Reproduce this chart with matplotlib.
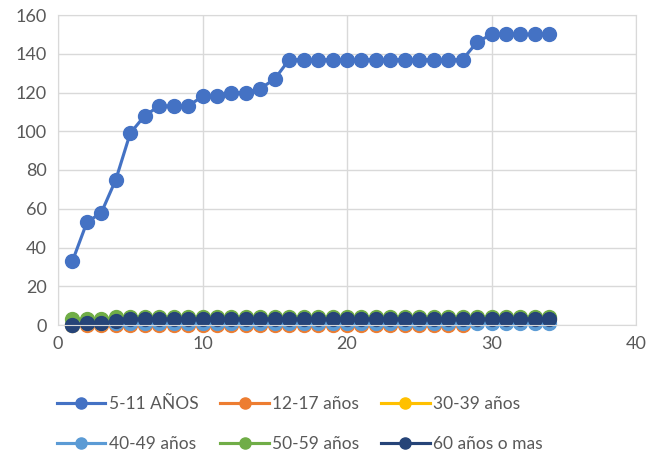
import matplotlib
matplotlib.use('Agg')
import matplotlib.pyplot as plt

plt.rcParams['font.family'] = ['Lato', 'DejaVu Sans']

dias = list(range(1, 35))

ninos_5_11 = [33, 53, 58, 75, 99, 108, 113, 113, 113, 118, 118, 120, 120, 122, 127,
              137, 137, 137, 137, 137, 137, 137, 137, 137, 137, 137, 137, 137,
              146, 150, 150, 150, 150, 150]
ados_12_17 = [0] * 28
a_30_39 = [0, 1, 1, 2] + [3] * 30
a_40_49 = [0, 1, 1, 1] + [1] * 30
a_50_59 = [3, 3, 3, 4] + [4] * 30
a_60_mas = [0, 1, 1, 2] + [3] * 30

series = [
    ("5-11 AÑOS", ninos_5_11, "#4472C4"),
    ("12-17 años", ados_12_17, "#ED7D31"),
    ("30-39 años", a_30_39, "#FFC000"),
    ("40-49 años", a_40_49, "#5B9BD5"),
    ("50-59 años", a_50_59, "#70AD47"),
    ("60 años o mas", a_60_mas, "#264478"),
]

fig = plt.figure(figsize=(6.49, 4.59), dpi=100)
ax = fig.add_axes([58 / 649, 1 - 325 / 459, 578 / 649, 310 / 459])

lineas = []
for nombre, vals, color in series:
    ln, = ax.plot(dias[:len(vals)], vals, color=color, lw=2.25, marker='o', ms=10,
                  label=nombre, clip_on=False)
    lineas.append(ln)

ax.set_xlim(0, 40)
ax.set_ylim(0, 160)
ax.set_xticks(range(0, 41, 10))
ax.set_yticks(range(0, 161, 20))
ax.grid(True, color='#D9D9D9', lw=1)
ax.set_axisbelow(True)
for s in ax.spines.values():
    s.set_color('#D9D9D9')
ax.tick_params(length=0, labelsize=13, labelcolor='#595959', pad=8)

# legend filled row by row like Excel (matplotlib fills by column)
orden = [0, 3, 1, 4, 2, 5]
fig.legend([lineas[i] for i in orden], [series[i][0] for i in orden],
           loc='center', bbox_to_anchor=(0.462, 1 - 424 / 459), ncol=3, frameon=False,
           fontsize=12.5, labelcolor='#595959', handlelength=2.8, columnspacing=1.25,
           handletextpad=0.2, labelspacing=1.35, markerscale=0.8)

fig.savefig('out.png', dpi=100)
